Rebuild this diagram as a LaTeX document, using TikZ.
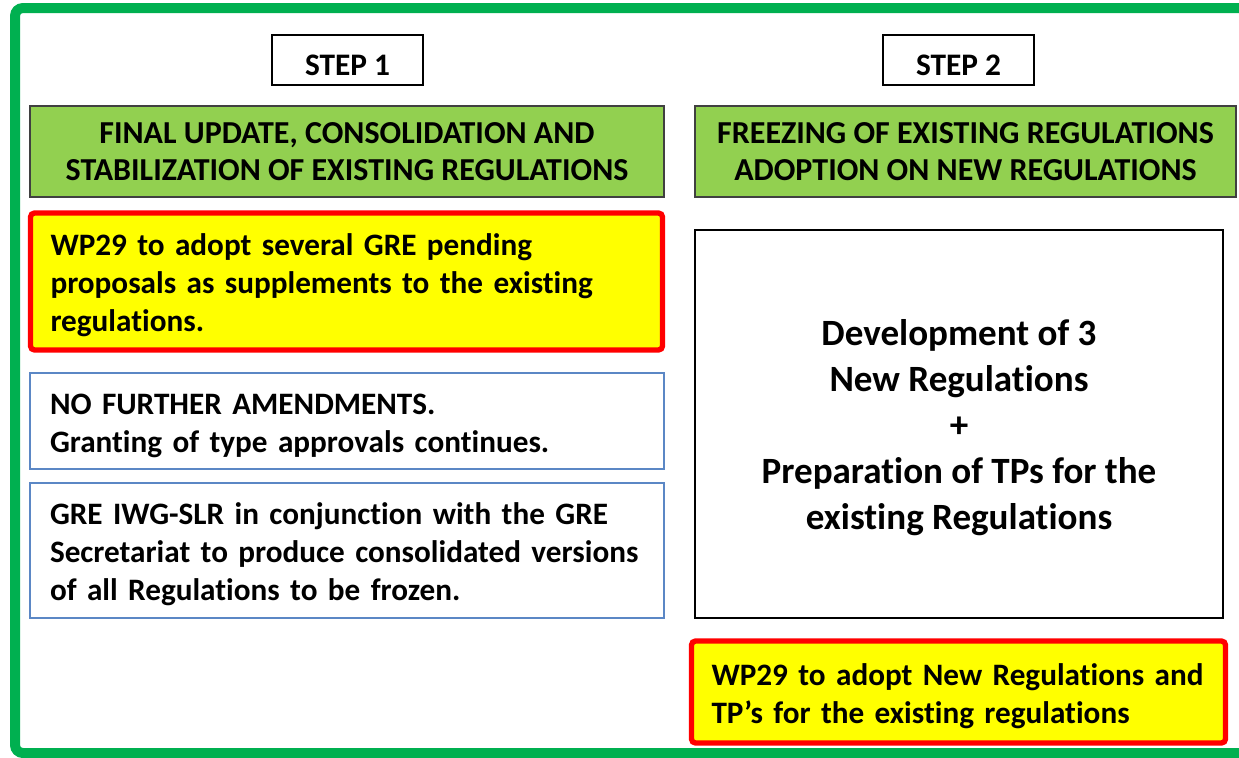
\documentclass[tikz,border=0pt]{standalone}
\usepackage{fontspec}
\setmainfont{Carlito}[Ligatures=NoCommon]
\definecolor{framegreen}{HTML}{00B050}
\definecolor{headgreen}{HTML}{92D050}
\definecolor{boxblue}{HTML}{5B87C5}
\definecolor{markyellow}{HTML}{FFFF00}
\definecolor{markred}{HTML}{FF0000}
\tikzset{
	stepbox/.style={draw=black, line width=1.1pt, minimum width=151*0.75pt, minimum height=50*0.75pt, text height=22.5pt, text depth=0pt, font=\fontsize{23.5}{28}\selectfont\bfseries},
	headbox/.style={draw=black!75, line width=1.1pt, fill=headgreen, align=center, text depth=-6pt, font=\fontsize{24}{28}\selectfont\bfseries},
	notebox/.style={draw=markred, line width=4pt, fill=markyellow, rounded corners=3pt, align=left, inner xsep=15pt, text height=22.5pt, font=\fontsize{23.4}{28.5}\selectfont\bfseries},
	plainbox/.style={draw=boxblue, line width=1.1pt, align=left, inner xsep=15pt, text height=22.5pt, font=\fontsize{23.4}{28.5}\selectfont\bfseries},
	devbox/.style={draw=black, line width=1.1pt, align=center, text depth=-2pt, font=\fontsize{27.8}{34.5}\selectfont\bfseries}
}
\begin{document}
\begin{tikzpicture}[x=0.75pt, y=-0.75pt]
	\useasboundingbox (0,0) rectangle (1239,757);
	\draw[framegreen, line width=7.5pt, rounded corners=6pt] (15,8) rectangle (1262,753);
	% step 1
	\node[stepbox] (step1) at (347.5,60) {STEP 1};
	\node[headbox, minimum width=634*0.75pt, minimum height=91*0.75pt] (head1) at (347,151.5) {FINAL UPDATE, CONSOLIDATION AND\\STABILIZATION OF EXISTING REGULATIONS};
	\node[notebox, text width=592*0.75pt, minimum height=137*0.75pt] (adopt1) at (346.5,281.5) {WP29 to adopt several GRE pending\\proposals as supplements to the existing\\regulations.};
	\node[plainbox, text width=594*0.75pt, minimum height=96*0.75pt] (noamend) at (347,421) {NO FURTHER AMENDMENTS.\\Granting of type approvals continues.};
	\node[plainbox, text width=594*0.75pt, minimum height=135*0.75pt] (consol) at (347,550.5) {GRE IWG-SLR in conjunction with the GRE\\Secretariat to produce consolidated versions\\of all Regulations to be frozen.};
	% step 2
	\node[stepbox] (step2) at (958.5,60) {STEP 2};
	\node[headbox, minimum width=541*0.75pt, minimum height=91*0.75pt] (head2) at (965.5,151.5) {FREEZING OF EXISTING REGULATIONS\\ADOPTION ON NEW REGULATIONS};
	\node[devbox, minimum width=528*0.75pt, minimum height=388*0.75pt] (develop) at (959,424) {Development of 3\\New Regulations\\+\\Preparation of TPs for the\\existing Regulations};
	\node[notebox, text width=494*0.75pt, minimum height=102*0.75pt] (adopt2) at (958.5,692) {WP29 to adopt New Regulations and\\TP’s for the existing regulations};
\end{tikzpicture}
\end{document}
